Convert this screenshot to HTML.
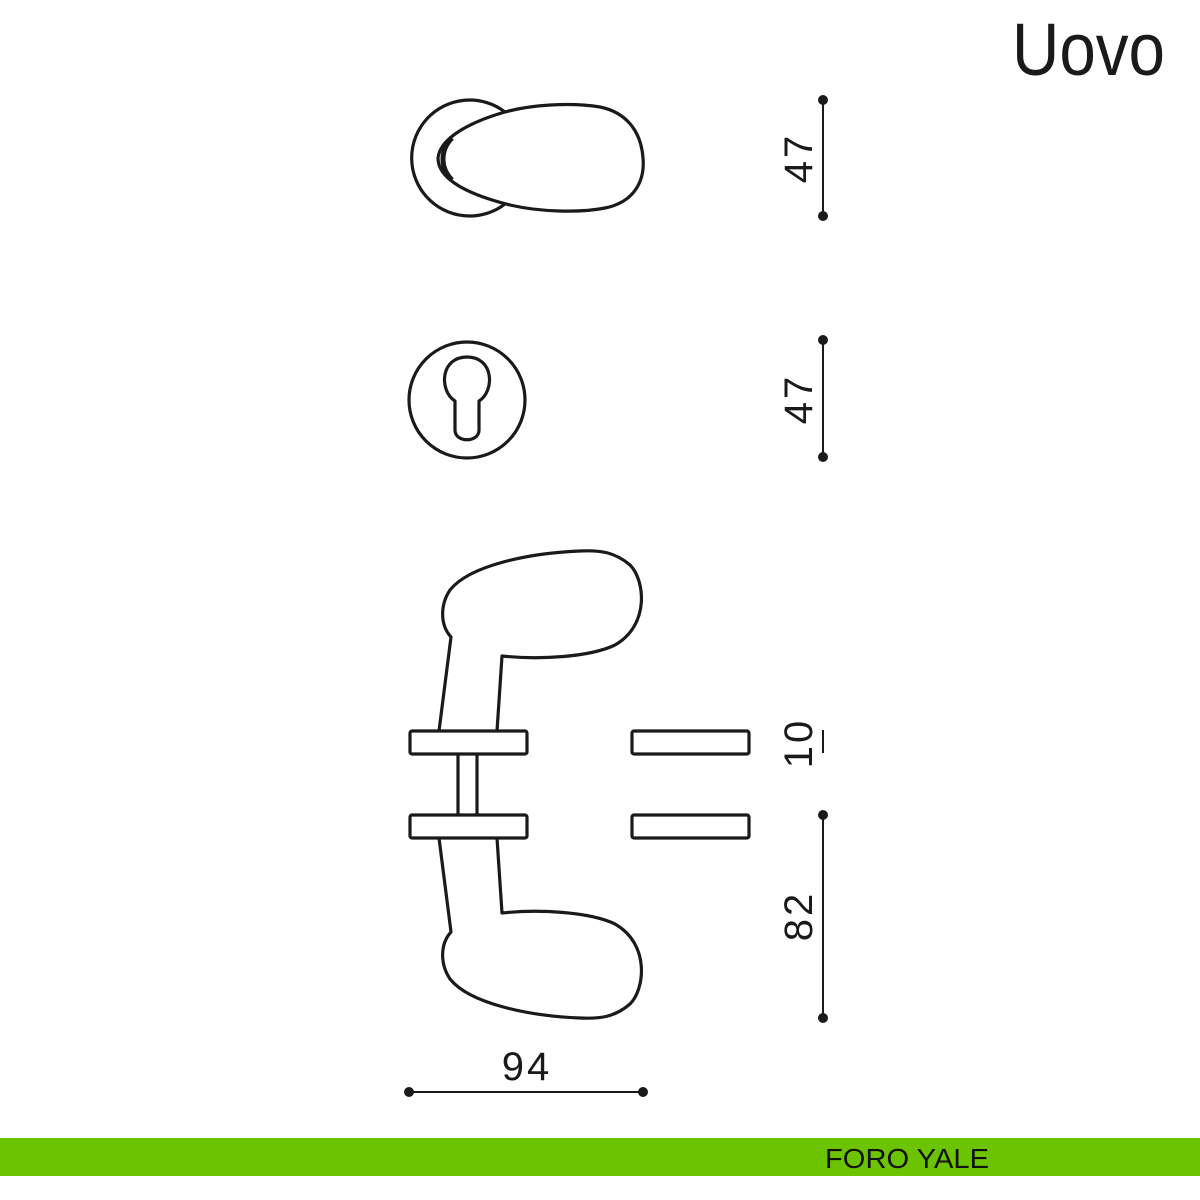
<!DOCTYPE html>
<html><head><meta charset="utf-8"><style>
html,body{margin:0;padding:0;background:#fff;}
svg{display:block;}
text{font-family:"Liberation Sans",sans-serif;}
</style></head><body>
<svg width="1200" height="1200" viewBox="0 0 1200 1200" xmlns="http://www.w3.org/2000/svg">
<rect width="1200" height="1200" fill="#fff"/>
<text x="1012" y="75" font-size="74" fill="#1a1a1a" textLength="153" lengthAdjust="spacingAndGlyphs">Uovo</text>

<g fill="none" stroke="#1a1a1a" stroke-width="3.2" stroke-linejoin="round">
<!-- top view -->
<path d="M505,112 A58,58 0 1 0 505,204"/>
<path d="M505,112 C470,122 440,138 438,158 C438,180 470,195 510,205 C540,212 580,213 605,208 C635,202 645,180 643,158 C641,130 625,112 600,107 C570,102 530,105 505,112 Z" fill="#fff"/>
<path d="M452,138 C440,150 440,168 452,180" stroke-width="5"/>
<!-- escutcheon -->
<circle cx="467" cy="400" r="58"/>
<path d="M455,401 C439,391 440,357 467,357 C494,357 495,391 479,401 L479,430 C479,443 455,443 455,430 Z"/>
<!-- handle -->
<g id="h">
<rect x="410" y="731" width="117" height="23" rx="2"/>
<path d="M439,731 L451,637 C440,625 440,605 450,590 C470,565 530,553 580,551 C600,550 615,552 630,565 C645,580 650,625 615,645 C590,657 540,660 502,656 L497,731"/>
</g>
<use href="#h" transform="translate(0,1569) scale(1,-1)"/>
<rect x="632" y="731" width="117" height="23" rx="2"/>
<rect x="632" y="815" width="117" height="23" rx="2"/>
<line x1="458" y1="754" x2="458" y2="815"/>
<line x1="477" y1="754" x2="477" y2="815"/>
</g>

<g stroke="#1a1a1a" stroke-width="2" fill="#1a1a1a">
<line x1="823" y1="100" x2="823" y2="216"/><circle cx="823" cy="100" r="4"/><circle cx="823" cy="216" r="4"/>
<line x1="823" y1="340" x2="823" y2="457"/><circle cx="823" cy="340" r="4"/><circle cx="823" cy="457" r="4"/>
<line x1="823" y1="730" x2="823" y2="753"/>
<line x1="823" y1="815" x2="823" y2="1018"/><circle cx="823" cy="815" r="4"/><circle cx="823" cy="1018" r="4"/>
<line x1="409" y1="1092" x2="643" y2="1092"/><circle cx="409" cy="1092" r="4"/><circle cx="643" cy="1092" r="4"/>
</g>
<g fill="#1a1a1a" font-size="40" text-anchor="middle">
<text transform="translate(812,158) rotate(-90)" letter-spacing="3">47</text>
<text transform="translate(812,399) rotate(-90)" letter-spacing="3">47</text>
<text transform="translate(812,743) rotate(-90)" letter-spacing="3">10</text>
<text transform="translate(812,916) rotate(-90)" letter-spacing="3">82</text>
<text x="527" y="1080" letter-spacing="3">94</text>
</g>

<rect x="0" y="1138" width="1200" height="38" fill="#6cc400"/>
<text x="825" y="1168" font-size="28" fill="#111" textLength="164" lengthAdjust="spacingAndGlyphs">FORO YALE</text>
</svg>
</body></html>
